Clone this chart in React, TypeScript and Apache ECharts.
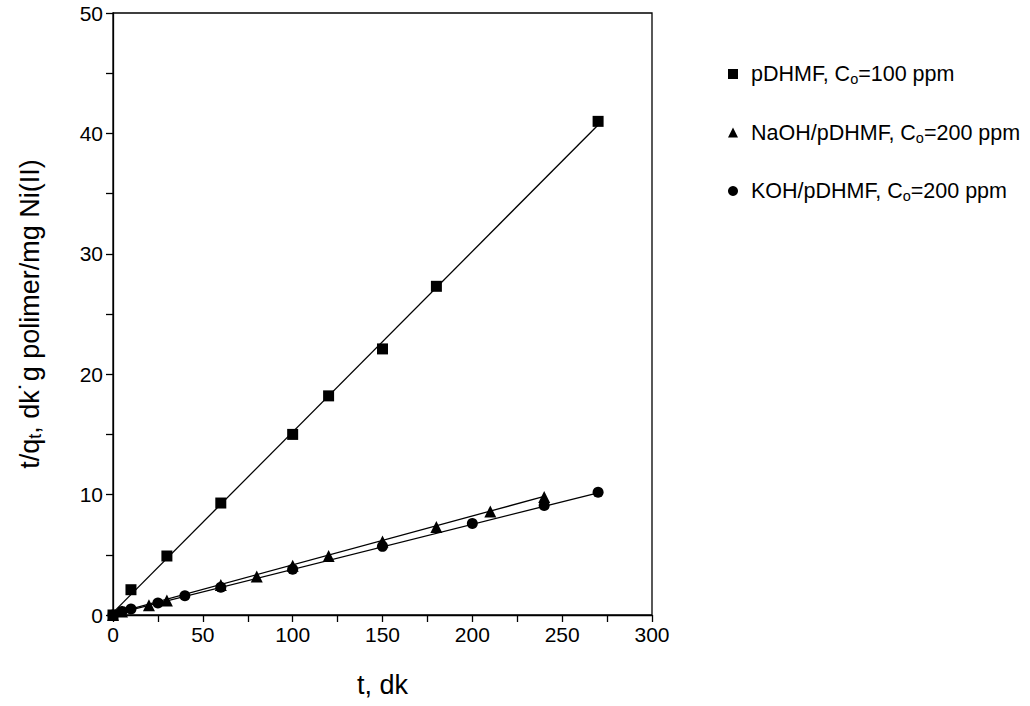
import React, { useEffect, useRef } from "react";
import * as echarts from "echarts";

// pDHMF, Co=100 ppm (squares)
const tSq = [0, 10, 30, 60, 100, 120, 150, 180, 270];
const ySq = [0.0, 2.1, 4.9, 9.3, 15.0, 18.2, 22.1, 27.3, 41.0];
// NaOH/pDHMF, Co=200 ppm (triangles)
const tTri = [0, 5, 20, 30, 60, 80, 100, 120, 150, 180, 210, 240];
const yTri = [0.0, 0.3, 0.8, 1.2, 2.5, 3.2, 4.1, 4.9, 6.1, 7.3, 8.6, 9.8];
// KOH/pDHMF, Co=200 ppm (circles)
const tCir = [0, 5, 10, 25, 40, 60, 100, 150, 200, 240, 270];
const yCir = [0.0, 0.3, 0.5, 1.0, 1.6, 2.3, 3.8, 5.7, 7.6, 9.1, 10.2];

// fitted lines (endpoints)
const fitSqX = [0, 270];
const fitSqY = [0.2, 40.7];
const fitTriX = [0, 240];
const fitTriY = [0.1, 9.85];
const fitCirX = [0, 270];
const fitCirY = [0.05, 10.15];

const names = ["pDHMF", "NaOH", "KOH"];
const legendLabels: Record<string, string> = {
  pDHMF: "pDHMF, C{s|o}=100 ppm",
  NaOH: "NaOH/pDHMF, C{s|o}=200 ppm",
  KOH: "KOH/pDHMF, C{s|o}=200 ppm",
};

const zip = (a: number[], b: number[]) => a.map((v, i) => [v, b[i]]);

export default function App() {
  const ref = useRef<HTMLDivElement>(null);
  useEffect(() => {
    if (!ref.current) return;
    const chart = echarts.init(ref.current, null, { renderer: "svg" });
    const font = "Liberation Sans, Arial, Helvetica, sans-serif";
    const fitLine = (x: number[], y: number[]) => ({
      type: "line",
      data: zip(x, y),
      symbol: "none",
      lineStyle: { color: "#000", width: 1.3 },
      silent: true,
      z: 1,
    });
    const mk = { color: "#000", opacity: 1 };
    chart.setOption({
      animation: false,
      backgroundColor: "#fff",
      textStyle: { fontFamily: font, color: "#000" },
      grid: {
        left: 113,
        top: 13,
        right: 378,
        bottom: 91,
        show: true,
        borderColor: "#000",
        borderWidth: 1.3,
        backgroundColor: "transparent",
      },
      legend: {
        orient: "vertical",
        left: 723,
        top: 58,
        itemGap: 35,
        itemWidth: 10,
        itemHeight: 10,
        data: names,
        formatter: (n: string) => legendLabels[n],
        itemStyle: { color: "#000", opacity: 1 },
        textStyle: {
          fontFamily: font,
          fontSize: 21.5,
          color: "#000",
          padding: [0, 0, 0, 8],
          rich: {
            s: { fontSize: 14.5, fontFamily: font, color: "#000", padding: [10, 0, 0, 0] },
          },
        },
      },
      xAxis: {
        type: "value",
        min: 0,
        max: 300,
        interval: 25,
        name: "t, dk",
        nameLocation: "middle",
        nameGap: 56,
        nameTextStyle: { fontSize: 27, fontFamily: font, color: "#000" },
        axisLine: { show: true, onZero: false, lineStyle: { color: "#000", width: 1.3 } },
        axisTick: { show: true, length: 7, lineStyle: { color: "#000", width: 1.3 } },
        axisLabel: {
          fontSize: 21,
          color: "#000",
          fontFamily: font,
          margin: 9,
          formatter: (v: number) => (v % 50 === 0 ? String(v) : ""),
        },
        splitLine: { show: false },
      },
      yAxis: {
        type: "value",
        min: 0,
        max: 50,
        interval: 5,
        name: "t/q{s|t}, dk˙g polimer/mg Ni(II)",
        nameLocation: "middle",
        nameGap: 69,
        nameRotate: 90,
        nameTextStyle: {
          fontSize: 27,
          fontFamily: font,
          color: "#000",
          rich: { s: { fontSize: 18, fontFamily: font, color: "#000", padding: [11, 0, 0, 0] } },
        },
        axisLine: { show: true, onZero: false, lineStyle: { color: "#000", width: 1.3 } },
        axisTick: { show: true, length: 7, lineStyle: { color: "#000", width: 1.3 } },
        axisLabel: {
          fontSize: 21,
          color: "#000",
          fontFamily: font,
          margin: 10,
          formatter: (v: number) => (v % 10 === 0 ? String(v) : ""),
        },
        splitLine: { show: false },
      },
      series: [
        fitLine(fitSqX, fitSqY),
        fitLine(fitTriX, fitTriY),
        fitLine(fitCirX, fitCirY),
        {
          name: "pDHMF",
          type: "scatter",
          symbol: "rect",
          symbolSize: 11,
          itemStyle: mk,
          emphasis: { disabled: true },
          data: zip(tSq, ySq),
          z: 3,
        },
        {
          name: "NaOH",
          type: "scatter",
          symbol: "triangle",
          symbolSize: 12,
          itemStyle: mk,
          emphasis: { disabled: true },
          data: zip(tTri, yTri),
          z: 3,
        },
        {
          name: "KOH",
          type: "scatter",
          symbol: "circle",
          symbolSize: 11,
          itemStyle: mk,
          emphasis: { disabled: true },
          data: zip(tCir, yCir),
          z: 3,
        },
      ],
    });
    return () => chart.dispose();
  }, []);
  return (
    <div
      ref={ref}
      style={{ position: "absolute", left: 0, top: 0, width: 1030, height: 706 }}
    />
  );
}
